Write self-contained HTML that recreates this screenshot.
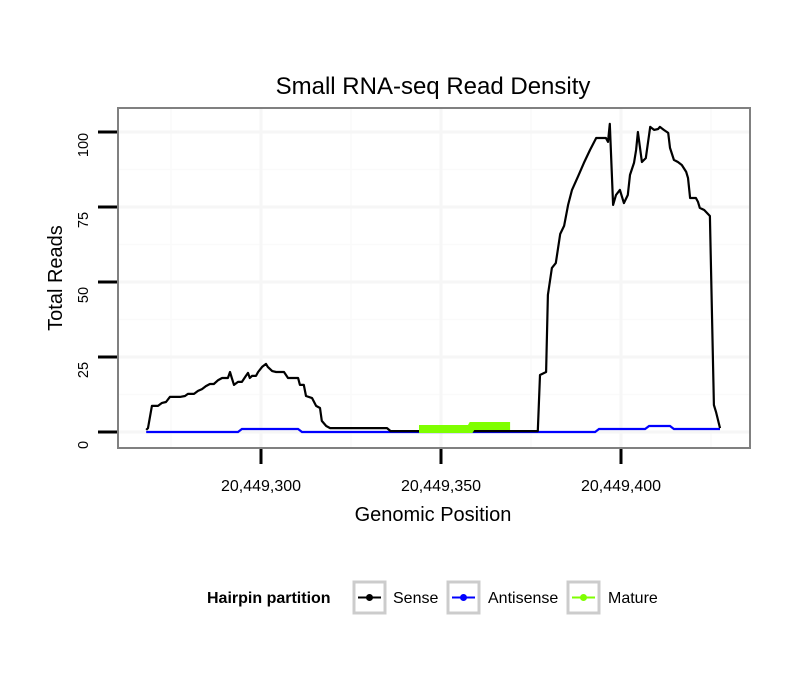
<!DOCTYPE html>
<html><head><meta charset="utf-8"><style>
body{margin:0;background:#fff;}
svg text{font-family:"Liberation Sans",sans-serif;}
</style></head><body>
<svg id="chart" width="810" height="690" xmlns="http://www.w3.org/2000/svg">
<rect width="810" height="690" fill="#fff"/>
<text x="433" y="94" font-size="24" text-anchor="middle">Small RNA-seq Read Density</text>
<g id="grid"></g>
<g id="series"></g>
<rect x="118" y="108" width="632" height="340" fill="none" stroke="#808080" stroke-width="2"/>
<g id="axes"></g>
<text x="433" y="521" font-size="20" text-anchor="middle">Genomic Position</text>
<text transform="translate(62,278) rotate(-90)" font-size="20" text-anchor="middle">Total Reads</text>
<g>
<text x="207" y="603" font-size="16" font-weight="bold">Hairpin partition</text>
<g>
<rect x="354" y="582" width="31" height="31" fill="#fff" stroke="#ccc" stroke-width="3"/>
<line x1="358" y1="597.5" x2="381" y2="597.5" stroke="#000" stroke-width="2"/><circle cx="369.5" cy="597.5" r="3.5" fill="#000"/>
<text x="393" y="603" font-size="16">Sense</text></g>
<g>
<rect x="448" y="582" width="31" height="31" fill="#fff" stroke="#ccc" stroke-width="3"/>
<line x1="452" y1="597.5" x2="475" y2="597.5" stroke="#0000ff" stroke-width="2"/><circle cx="463.5" cy="597.5" r="3.5" fill="#0000ff"/>
<text x="488" y="603" font-size="16">Antisense</text></g>
<g>
<rect x="568" y="582" width="31" height="31" fill="#fff" stroke="#ccc" stroke-width="3"/>
<line x1="572" y1="597.5" x2="595" y2="597.5" stroke="#7fff00" stroke-width="2"/><circle cx="583.5" cy="597.5" r="3.5" fill="#7fff00"/>
<text x="608" y="603" font-size="16">Mature</text></g>
</g>
</svg>
<script>
const senseX=[268.1,268.6,269.7,271.4,272.5,273.6,274.7,277.5,278.9,279.7,281.4,282.5,283.6,284.7,285.8,286.9,288.1,289.2,290.8,291.4,291.9,292.5,293.6,294.7,295.8,296.4,296.9,297.5,298.6,299.2,300.3,301.4,301.9,303.1,304.2,306.4,307.5,310.3,310.8,311.9,312.5,314.2,315.3,316.4,316.9,318.1,319.2,335.0,336.0,376.9,377.5,379.2,379.7,380.8,381.9,383.1,384.2,385.3,386.4,388.1,389.7,391.4,393.1,395.8,396.4,396.9,397.8,398.6,399.7,400.8,401.9,402.5,403.6,404.2,404.7,405.8,406.9,408.1,409.2,410.3,410.8,411.9,413.1,413.6,414.7,415.8,416.9,418.1,418.6,419.2,420.8,421.4,421.9,423.1,424.7,425.8,426.4,427.5];
const senseY=[0.7,1.3,8.7,8.7,9.7,10,11.7,11.7,12,12.7,12.7,13.7,14.3,15.3,16,16,17.3,18,18,20,18,15.7,16.7,16.7,18.7,19.7,18,18.7,18.7,20,21.7,22.7,21.7,20.3,20,20,18,18,15.7,15.7,12,11.3,8.7,8,3.7,2,1.3,1.3,0.3,0.3,19,20,45.7,54.7,56.3,66,68.7,75.7,80.7,85.3,89.7,94,98,98,96.7,102.7,75.7,79,80.7,76.3,79,85.7,89.7,94,100,90,91.3,101.7,100.7,101,101.7,100.7,99.7,94.7,90.7,90,89,86.7,84.7,78,78,76.7,74.7,74,72,9,6.7,1.3];
const antiX=[268.1,293.6,294.7,310.3,311.4,392.8,393.9,406.7,407.8,413.6,414.7,427.5];
const antiY=[0,0,1,1,0,0,1,1,2,2,1,1];
const matureX=[343.9,358.1,358.6,369.2];
const matureY=[1,1,2,2];
const xTicks=[20449300,20449350,20449400];
const xTickLabels=["20,449,300","20,449,350","20,449,400"];
const yTicks=[0,25,50,75,100];
const BASE=20449000;
function xs(p){return 261+(p-300)*3.6;}
function ys(v){return 432-v*3;}
const NS="http://www.w3.org/2000/svg";
function mk(t,a,parent){const e=document.createElementNS(NS,t);for(const k in a)e.setAttribute(k,a[k]);parent.appendChild(e);return e;}
const grid=document.getElementById('grid'),axes=document.getElementById('axes'),ser=document.getElementById('series');
for(let i=0;i<yTicks.length-1;i++){const v=(yTicks[i]+yTicks[i+1])/2;
 const l=mk('line',{x1:118,x2:750,y1:ys(v),y2:ys(v),stroke:'#fafafa','stroke-width':1.5},grid);
 
 }
[-25,25,75,125].forEach(d=>{const x=xs(300+d);
 const l=mk('line',{x1:x,x2:x,y1:108,y2:448,stroke:'#fafafa','stroke-width':1.5},grid);
 
 });
yTicks.forEach(v=>{
 const g=mk('line',{x1:118,x2:750,y1:ys(v),y2:ys(v),stroke:'#f6f6f6','stroke-width':3},grid);
 
 
 const t=mk('line',{x1:98,x2:117,y1:ys(v),y2:ys(v),stroke:'#000','stroke-width':3},axes);
 
 
 const tx=mk('text',{transform:`translate(88,${ys(v)+13}) rotate(-90)`,'font-size':14.5,'text-anchor':'middle'},axes);
 tx.textContent=v;
 
 
});
xTicks.forEach((p,i)=>{const x=xs(p-BASE);
 const g=mk('line',{x1:x,x2:x,y1:108,y2:448,stroke:'#f6f6f6','stroke-width':3},grid);
 
 
 const t=mk('line',{x1:x,x2:x,y1:449,y2:464,stroke:'#000','stroke-width':3},axes);
 
 
 const tx=mk('text',{x:x,y:491,'font-size':16,'text-anchor':'middle'},axes);
 tx.textContent=xTickLabels[i];
 
 
});
function path(X,Y){return X.map((p,i)=>(i?'L':'M')+xs(p).toFixed(1)+','+ys(Y[i]).toFixed(1)).join('');}
const a=mk('path',{d:path(antiX,antiY),fill:'none',stroke:'#0000ff','stroke-width':2.2},ser);


const s=mk('path',{d:path(senseX,senseY),fill:'none',stroke:'#000','stroke-width':2.2,'stroke-linejoin':'round'},ser);


const m=mk('path',{d:path(matureX,matureY),fill:'none',stroke:'#7fff00','stroke-width':8},ser);


</script>
</body></html>
